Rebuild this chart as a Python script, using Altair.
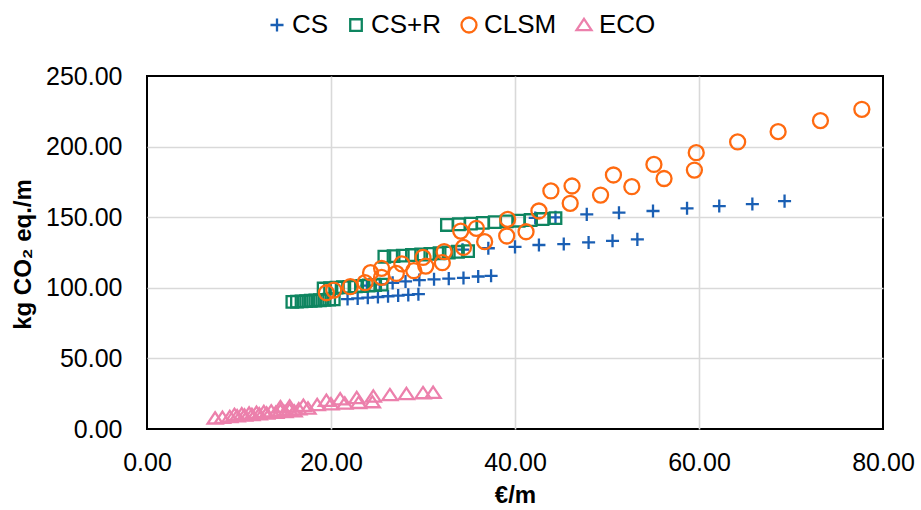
import altair as alt
import pandas as pd

# ---- data ----
series_names = ["CS", "CS+R", "CLSM", "ECO"]

cs_x = [21.8, 22.9, 24.0, 25.1, 26.2, 27.3, 28.4, 29.5,
        23.9, 25.3, 26.7, 28.1, 29.6, 31.2, 32.8, 34.4, 36.0, 37.4,
        34.3, 37.1, 40.0, 42.6, 45.3, 48.0, 50.6, 53.3,
        42.2, 44.4, 47.8, 51.3, 55.0, 58.7, 62.2, 65.8, 69.3]
cs_y = [92.0, 92.5, 93.0, 93.5, 94.0, 94.5, 95.0, 95.5,
        101.5, 102.5, 103.5, 104.5, 105.5, 106.0, 106.5, 107.0, 108.0, 108.5,
        127.0, 128.0, 129.0, 130.3, 131.0, 132.1, 133.3, 134.3,
        149.5, 149.9, 152.0, 153.2, 154.4, 156.3, 157.9, 159.3, 161.4]

csr_x = [15.8, 16.3, 16.8, 17.3, 17.8, 18.3, 18.8, 19.3, 19.8, 20.3,
         19.2, 19.9, 20.6, 21.3, 22.0, 22.7, 23.4, 24.1, 24.8, 25.5,
         25.8, 26.8, 27.8, 28.8, 29.8, 30.8, 31.8, 32.8, 33.8, 34.9,
         32.6, 33.9, 35.2, 36.5, 37.8, 39.1, 40.4, 41.7, 43.0, 44.4]
csr_y = [90.0, 90.2, 90.4, 90.6, 90.8, 91.0, 91.2, 91.4, 91.6, 91.8,
         99.5, 99.8, 100.1, 100.4, 100.7, 101.0, 101.3, 101.6, 101.9, 102.2,
         122.0, 122.4, 122.8, 123.2, 123.6, 124.0, 124.5, 125.0, 125.5, 126.0,
         144.5, 145.0, 145.5, 146.0, 146.5, 147.0, 147.5, 148.0, 148.7, 149.3]

clsm_x = [19.5, 20.3, 22.1, 23.7, 24.3, 25.5, 25.5, 27.1, 27.7, 29.0,
          30.0, 30.3, 32.1, 32.3, 34.4, 34.1, 35.8, 36.7, 39.1, 39.2,
          41.2, 42.6, 43.9, 46.0, 46.2, 49.3, 50.7, 52.7, 55.1, 56.2,
          59.5, 59.7, 64.2, 68.6, 73.2, 77.7]
clsm_y = [96.5, 98.4, 100.8, 103.6, 110.7, 107.4, 113.8, 110.2, 116.9, 112.1,
          121.5, 115.4, 117.8, 125.6, 128.6, 140.2, 142.1, 132.7, 136.7, 148.5,
          139.7, 154.4, 168.6, 159.8, 172.1, 165.7, 179.9, 171.6, 187.4, 177.4,
          183.4, 195.7, 203.3, 210.6, 218.4, 226.4]

eco_x = [7.4, 8.2, 9.0, 9.8, 10.6, 11.4, 12.2, 13.0, 14.0, 15.0, 16.0,
         9.5, 10.3, 11.1, 11.9, 12.7, 13.5, 14.5, 15.5, 16.5, 17.5,
         14.5, 15.5, 17.0, 18.5, 20.0, 21.5, 23.0, 24.5,
         19.5, 21.0, 22.8, 24.6, 26.4, 28.2, 30.0, 31.1]
eco_y = [7.5, 8.0, 8.5, 9.0, 9.5, 10.0, 10.5, 11.0, 11.5, 12.0, 12.5,
         10.0, 10.5, 11.0, 11.5, 12.0, 12.5, 13.0, 13.5, 14.0, 14.5,
         15.5, 16.0, 16.5, 17.0, 17.5, 18.0, 18.5, 19.0,
         20.0, 21.0, 22.0, 23.0, 24.0, 24.8, 25.4, 25.7]

x_ticks = [0, 20, 40, 60, 80]
y_ticks = [0, 50, 100, 150, 200, 250]

# ---- build the table ----
rows = []
for name, xs, ys in zip(series_names,
                        [cs_x, csr_x, clsm_x, eco_x],
                        [cs_y, csr_y, clsm_y, eco_y]):
    for xv, yv in zip(xs, ys):
        rows.append({"series": name, "cost": xv, "co2": yv})
df = pd.DataFrame(rows)

colors = ["#1a5fb4", "#0e8560", "#ff6a10", "#ec80ac"]
shapes = [
    "M-0.87,0H0.87M0,-0.87V0.87",
    "M-0.77,-0.77H0.77V0.77H-0.77Z",
    "circle",
    "M0,-0.82L1,0.68L-1,0.68Z",
]

FONT = "Liberation Sans"

legend = alt.Legend(
    title=None,
    orient="none",
    legendX=117,
    legendY=-64,
    direction="horizontal",
    columns=4,
    labelFont=FONT,
    labelFontSize=26,
    labelColor="#000000",
    symbolSize=225,
    symbolStrokeWidth=2.3,
    labelOffset=2,
    columnPadding=14,
    padding=0,
)

grid_hide_x = {"condition": {"test": "datum.value == 0 || datum.value == 80", "value": 0}, "value": 1}
grid_hide_y = {"condition": {"test": "datum.value == 0 || datum.value == 250", "value": 0}, "value": 1}

chart = alt.Chart(df).mark_point(
    filled=False, size=225, strokeWidth=2.3, opacity=1
).encode(
    x=alt.X(
        "cost:Q",
        scale=alt.Scale(domain=[0, 80], nice=False),
        axis=alt.Axis(
            values=x_ticks, format=".2f", title="€/m",
            labelPadding=21, labelFlush=False,
            titleY=66, titleBaseline="middle",
            gridOpacity=grid_hide_x,
        ),
    ),
    y=alt.Y(
        "co2:Q",
        scale=alt.Scale(domain=[0, 250], nice=False),
        axis=alt.Axis(
            values=y_ticks, format=".2f", title="kg CO₂ eq./m",
            labelPadding=25, labelFlush=False,
            titleX=-124, titleY=178, titleBaseline="middle",
            gridOpacity=grid_hide_y,
        ),
    ),
    color=alt.Color("series:N", scale=alt.Scale(domain=series_names, range=colors), legend=legend),
    shape=alt.Shape("series:N", scale=alt.Scale(domain=series_names, range=shapes), legend=legend),
).properties(
    width=736,
    height=353,
    autosize=alt.AutoSizeParams(type="none"),
    padding={"left": 147, "top": 76, "right": 38, "bottom": 81},
).configure_view(
    stroke="#000000", strokeWidth=2
).configure_axis(
    domain=False, ticks=False, tickSize=0,
    grid=True, gridColor="#d9d9d9", gridWidth=1.6,
    labelFont=FONT, labelFontSize=25, labelColor="#000000",
    titleFont=FONT, titleFontSize=24, titleFontWeight="bold", titleColor="#000000",
)

chart.save("out.html", embed_options={"renderer": "svg", "actions": False})
